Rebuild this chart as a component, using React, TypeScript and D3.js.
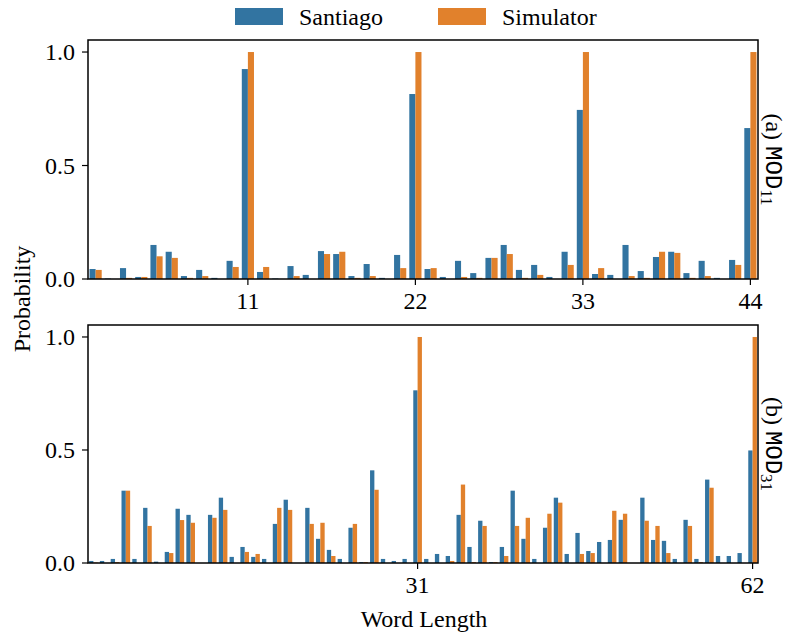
import React from 'react';
import * as d3 from 'd3';

const seriesNames = ['Santiago', 'Simulator'];
const colors = ['#3274a1', '#e1812c'];

// MOD 11 panel (word lengths 1..44)
const santiago11 = [0.044, 0.002, 0.048, 0.009, 0.15, 0.12, 0.013, 0.04, 0.005, 0.08, 0.925, 0.031, 0.002, 0.057, 0.018, 0.123, 0.11, 0.013, 0.066, 0.005, 0.106, 0.815, 0.044, 0.009, 0.08, 0.026, 0.093, 0.15, 0.04, 0.062, 0.009, 0.12, 0.745, 0.022, 0.018, 0.15, 0.035, 0.097, 0.12, 0.026, 0.08, 0.005, 0.084, 0.665];
const simulator11 = [0.04, 0, 0.005, 0.009, 0.1, 0.093, 0.005, 0.013, 0, 0.053, 1.0, 0.053, 0, 0.013, 0, 0.11, 0.12, 0.005, 0.013, 0, 0.048, 1.0, 0.048, 0, 0.009, 0.005, 0.093, 0.11, 0.005, 0.018, 0, 0.062, 1.0, 0.048, 0, 0.013, 0.005, 0.12, 0.115, 0.005, 0.013, 0, 0.062, 1.0];

// MOD 31 panel (word lengths 1..62)
const santiago31 = [0.009, 0.009, 0.018, 0.32, 0.018, 0.244, 0.006, 0.049, 0.24, 0.213, 0, 0.213, 0.289, 0.027, 0.071, 0.027, 0.018, 0.173, 0.28, 0, 0.244, 0.107, 0.058, 0.018, 0.156, 0.004, 0.41, 0.018, 0.009, 0.018, 0.764, 0.018, 0.04, 0.031, 0.213, 0.071, 0.187, 0.004, 0.071, 0.32, 0.107, 0.018, 0.156, 0.289, 0.04, 0.133, 0.053, 0.093, 0.102, 0.191, 0, 0.289, 0.102, 0.098, 0.018, 0.191, 0.018, 0.369, 0.031, 0.031, 0.044, 0.498];
const simulator31 = [0.002, 0, 0.004, 0.32, 0, 0.164, 0, 0.044, 0.19, 0.178, 0, 0.2, 0.235, 0, 0.049, 0.04, 0, 0.244, 0.235, 0, 0.173, 0.178, 0.031, 0, 0.173, 0.004, 0.324, 0, 0, 0, 1.0, 0, 0, 0.009, 0.347, 0.004, 0.164, 0.004, 0.031, 0.164, 0.2, 0, 0.218, 0.267, 0, 0.04, 0.044, 0, 0.231, 0.218, 0, 0.187, 0.164, 0.044, 0, 0.164, 0.004, 0.333, 0, 0, 0, 1.0];

const yTicks = [0, 0.5, 1.0];
const xTicks11 = [11, 22, 33, 44];
const xTicks31 = [31, 62];

const W = 791;
const H = 635;
const left = 88;
const right = 758;
const font = 'Liberation Serif, Times New Roman, Times, DejaVu Serif, serif';
const mono = 'Liberation Mono, DejaVu Sans Mono, monospace';
const fs = 24;

type PanelProps = {
  top: number;
  bottom: number;
  a: number[];
  b: number[];
  ticks: number[];
  tag: string;
  sub: string;
};

const Panel = ({ top, bottom, a, b, ticks, tag, sub }: PanelProps) => {
  const cats = d3.range(1, a.length + 1);
  const x = d3.scaleBand<number>().domain(cats).range([left, right]).padding(0);
  const hue = d3.scaleBand<string>().domain(seriesNames).range([0, x.bandwidth()]).paddingInner(0).paddingOuter(0.25);
  const y = d3.scaleLinear().domain([0, 1.053]).range([bottom, top]);
  const series = [a, b];
  const midY = (top + bottom) / 2;

  return (
    <g>
      {series.map((vals, si) =>
        vals.map((v, i) => (
          <rect
            key={`${si}-${i}`}
            x={(x(cats[i]) as number) + (hue(seriesNames[si]) as number)}
            y={y(v)}
            width={hue.bandwidth()}
            height={y(0) - y(v)}
            fill={colors[si]}
          />
        ))
      )}
      <rect x={left} y={top} width={right - left} height={bottom - top} fill="none" stroke="#000" strokeWidth={1.5} />
      {yTicks.map(t => (
        <g key={t}>
          <line x1={left - 6} x2={left} y1={y(t)} y2={y(t)} stroke="#000" strokeWidth={1.2} />
          <text x={left - 13} y={y(t)} dy="0.35em" textAnchor="end">
            {t.toFixed(1)}
          </text>
        </g>
      ))}
      {ticks.map(t => {
        const cx = (x(t) as number) + x.bandwidth() / 2;
        return (
          <g key={t}>
            <line x1={cx} x2={cx} y1={bottom} y2={bottom + 6} stroke="#000" strokeWidth={1.2} />
            <text x={cx} y={bottom + 30} textAnchor="middle">
              {t}
            </text>
          </g>
        );
      })}
      <text transform={`translate(${right + 8},${midY}) rotate(90)`} textAnchor="middle">
        {tag}{' '}
        <tspan fontFamily={mono} fontSize={fs}>MOD</tspan>
        <tspan fontSize={fs - 7} dy={5}>{sub}</tspan>
      </text>
    </g>
  );
};

export default function App() {
  return (
    <svg
      width={W}
      height={H}
      fontFamily={font}
      fontSize={fs}
      style={{ position: 'absolute', left: 0, top: 0, display: 'block', background: '#fff' }}
    >
      <Panel top={40} bottom={279} a={santiago11} b={simulator11} ticks={xTicks11} tag="(a)" sub="11" />
      <Panel top={325} bottom={563} a={santiago31} b={simulator31} ticks={xTicks31} tag="(b)" sub="31" />

      {/* legend */}
      <g>
        <rect x={235} y={8} width={48} height={17} fill={colors[0]} />
        <text x={299} y={17} dy="0.35em">Santiago</text>
        <rect x={438} y={8} width={48} height={17} fill={colors[1]} />
        <text x={502} y={17} dy="0.35em">Simulator</text>
      </g>

      <text transform={`translate(30,299) rotate(-90)`} textAnchor="middle">
        Probability
      </text>
      <text x={424} y={627} textAnchor="middle">
        Word Length
      </text>
    </svg>
  );
}
